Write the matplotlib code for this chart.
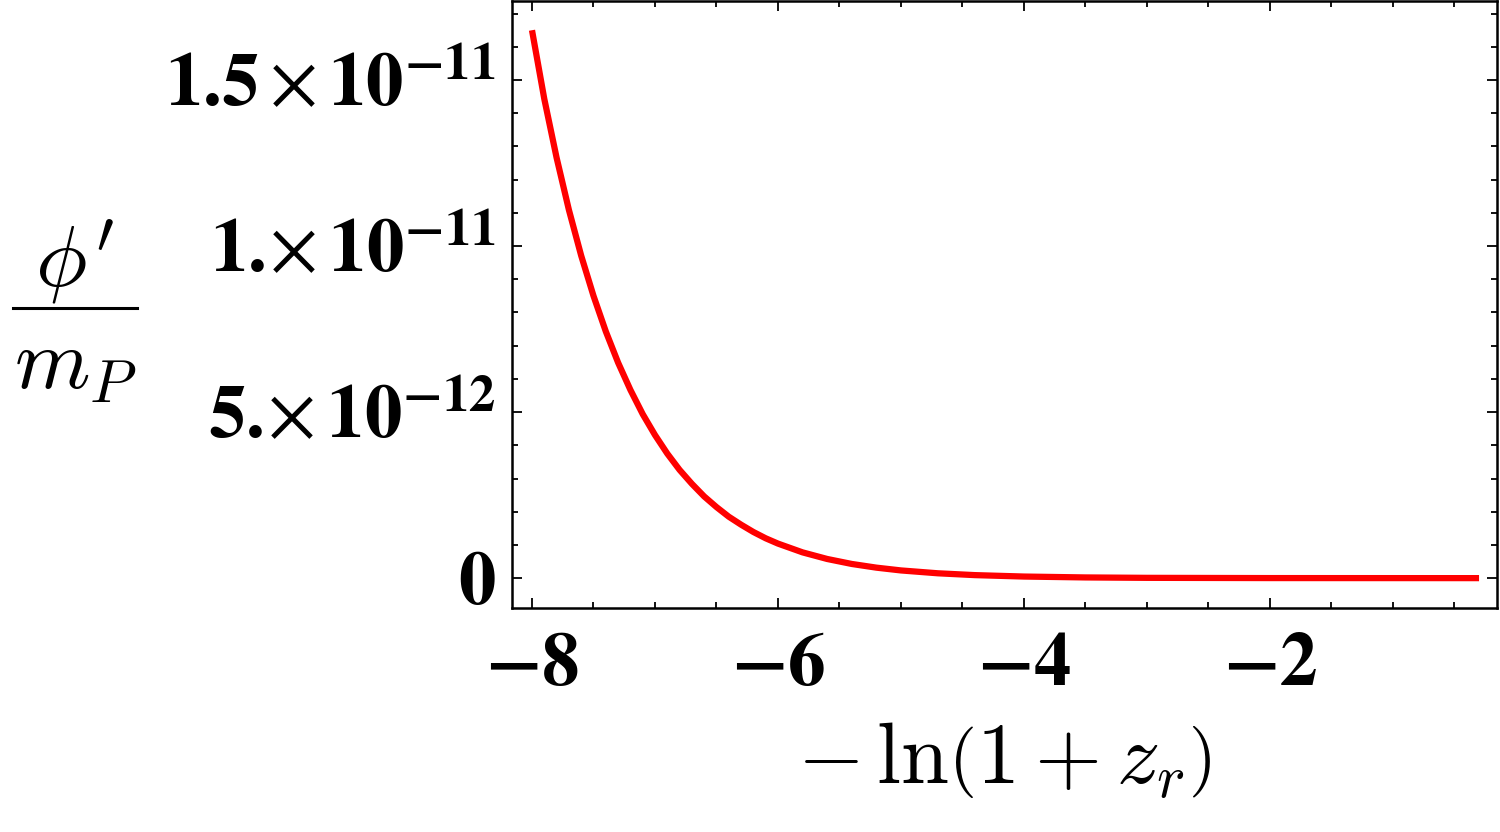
import matplotlib.pyplot as plt
import numpy as np

plt.rcParams['mathtext.fontset'] = 'stix'
plt.rcParams['font.family'] = 'STIXGeneral'

# curve, y in units of 1e-12
x = [-8.0, -7.9, -7.8, -7.7, -7.6, -7.5, -7.4, -7.3, -7.2, -7.1, -7.0,
     -6.9, -6.8, -6.7, -6.6, -6.5, -6.4, -6.3, -6.2, -6.1, -6.0,
     -5.8, -5.6, -5.4, -5.2, -5.0, -4.7, -4.4, -4.0, -3.5, -3.0,
     -2.0, -0.3]
y = [16.5, 14.43, 12.66, 11.09, 9.71, 8.50, 7.43, 6.49, 5.67, 4.94, 4.31,
     3.75, 3.26, 2.84, 2.46, 2.14, 1.85, 1.61, 1.39, 1.20, 1.04,
     0.776, 0.577, 0.427, 0.316, 0.232, 0.146, 0.091, 0.048, 0.021, 0.009,
     0.002, 0.0002]
y = np.array(y) * 1e-12

xticks = [-8, -6, -4, -2]
xlabels = [r'$\mathbf{-8}$', r'$\mathbf{-6}$', r'$\mathbf{-4}$', r'$\mathbf{-2}$']
yticks = [0, 5e-12, 1e-11, 1.5e-11]
ylabels = [r'$\mathbf{0}$',
           r'$\mathbf{5.}\!\!\times\mathbf{10}^{\mathbf{-12}}$',
           r'$\mathbf{1.}\!\!\times\mathbf{10}^{\mathbf{-11}}$',
           r'$\mathbf{1.5}\times\mathbf{10}^{\mathbf{-11}}$']

fig = plt.figure(figsize=(15, 8.32), dpi=100)
ax = fig.add_axes([0.3413, 0.2692, 0.6567, 0.7296])
ax.plot(x, y, color='red', lw=4.5, solid_capstyle='butt')

ax.set_xlim(-8.163, -0.154)
ax.set_ylim(-0.9e-12, 1.738e-11)
ax.set_xticks(xticks)
ax.set_xticklabels(xlabels)
ax.set_yticks(yticks)
ax.set_yticklabels(ylabels)
ax.set_xticks(np.arange(-8, 0, 0.5), minor=True)
ax.set_yticks(np.arange(0, 1.75e-11, 1e-12), minor=True)

for s in ax.spines.values():
    s.set_linewidth(1.8)
ax.tick_params(which='both', direction='in', top=True, right=True, width=1.3)
ax.tick_params(which='major', length=7)
ax.tick_params(which='minor', length=4)
ax.tick_params(axis='x', which='major', labelsize=54, pad=18)
ax.tick_params(axis='y', which='major', labelsize=54, pad=12)

ax.set_xlabel(r'$-\,\ln\!\left(1+z_r\right)$', fontsize=62, math_fontfamily='cm', labelpad=14)

# y label drawn as a stacked fraction
fig.text(0.05, 1 - 262 / 832, r"$\phi'$", fontsize=62, math_fontfamily='cm',
         ha='center', va='center')
fig.add_artist(plt.Line2D([13 / 1500, 137 / 1500], [1 - 308 / 832, 1 - 308 / 832],
                          transform=fig.transFigure, color='black', lw=2.2))
fig.text(0.05, 1 - 368 / 832, r"$m_P$", fontsize=62, math_fontfamily='cm',
         ha='center', va='center')

fig.savefig('out.png', dpi=100)
